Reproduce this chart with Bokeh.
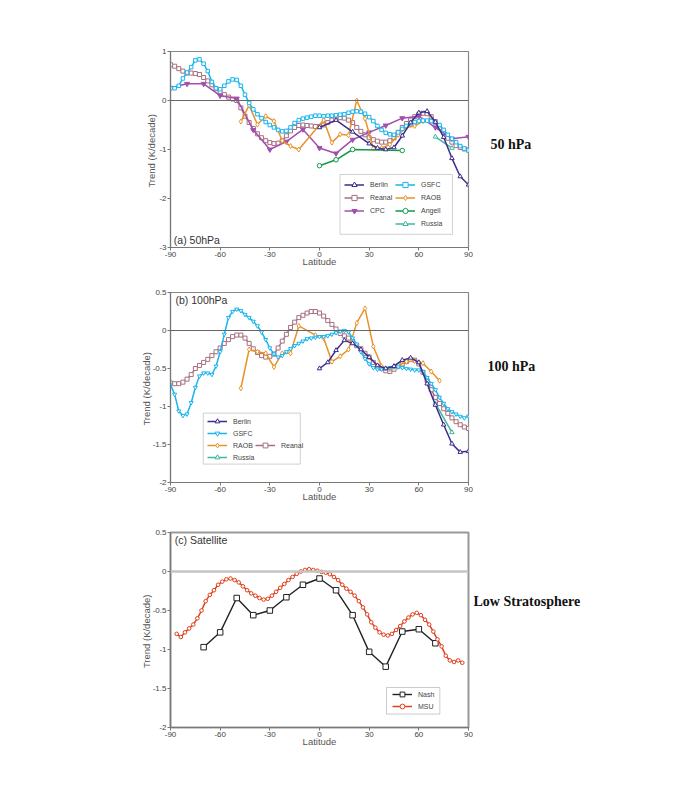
from bokeh.plotting import figure
from bokeh.layouts import column, row
from bokeh.models import Range1d, Legend, LegendItem, Label, BoxAnnotation, Span, FixedTicker
from bokeh.embed import file_html
from bokeh.resources import INLINE

# ---------------- data ----------------
X_TICKS = [-90, -60, -30, 0, 30, 60, 90]

GRID_LAT = [-90, -87.5, -85, -82.5, -80, -77.5, -75, -72.5, -70, -67.5, -65, -62.5, -60, -57.5,
            -55, -52.5, -50, -47.5, -45, -42.5, -40, -37.5, -35, -32.5, -30, -27.5, -25, -22.5,
            -20, -17.5, -15, -12.5, -10, -7.5, -5, -2.5, 0, 2.5, 5, 7.5, 10, 12.5, 15, 17.5,
            20, 22.5, 25, 27.5, 30, 32.5, 35, 37.5, 40, 42.5, 45, 47.5, 50, 52.5, 55, 57.5,
            60, 62.5, 65, 67.5, 70, 72.5, 75, 77.5, 80, 82.5, 85, 87.5, 90]

# (a) 50 hPa
A_BERLIN_LAT = [0, 10, 20, 30, 35, 40, 45, 50, 55, 60, 65, 70, 75, 80, 85, 90]
A_BERLIN = [-0.55, -0.40, -0.64, -0.88, -0.97, -1.00, -0.96, -0.72, -0.45, -0.25, -0.22, -0.44,
            -0.75, -1.18, -1.55, -1.72]
A_REANAL = [0.73, 0.70, 0.65, 0.60, 0.56, 0.56, 0.55, 0.53, 0.47, 0.40, 0.32, 0.24, 0.18, 0.12,
            0.07, 0.03, 0.00, -0.15, -0.32, -0.45, -0.57, -0.68, -0.76, -0.82, -0.86, -0.88,
            -0.87, -0.82, -0.72, -0.62, -0.55, -0.51, -0.50, -0.51, -0.52, -0.53, -0.53, -0.50,
            -0.45, -0.40, -0.37, -0.35, -0.36, -0.40, -0.45, -0.55, -0.63, -0.70, -0.76, -0.80,
            -0.83, -0.85, -0.85, -0.82, -0.76, -0.65, -0.55, -0.47, -0.40, -0.33, -0.28, -0.26,
            -0.27, -0.33, -0.43, -0.55, -0.65, -0.77, -0.85, -0.92, -0.96, -0.99, -1.01]
A_GSFC = [0.25, 0.25, 0.30, 0.45, 0.57, 0.68, 0.82, 0.84, 0.75, 0.60, 0.38, 0.25, 0.23, 0.30,
          0.39, 0.43, 0.42, 0.30, 0.12, -0.05, -0.18, -0.28, -0.36, -0.44, -0.50, -0.55, -0.60,
          -0.63, -0.62, -0.55, -0.46, -0.40, -0.37, -0.35, -0.33, -0.31, -0.31, -0.32, -0.31,
          -0.31, -0.30, -0.29, -0.28, -0.25, -0.23, -0.22, -0.23, -0.27, -0.34, -0.42, -0.52,
          -0.60, -0.66, -0.69, -0.70, -0.65, -0.58, -0.52, -0.47, -0.44, -0.42, -0.41, -0.41,
          -0.42, -0.45, -0.50, -0.60, -0.70, -0.78, -0.85, -0.93, -0.98, -1.02]
A_CPC_LAT = [-90, -80, -70, -60, -50, -40, -30, -20, -10, 0, 10, 20, 30, 40, 50, 60, 70, 80, 90]
A_CPC = [0.26, 0.34, 0.34, 0.10, 0.04, -0.60, -1.00, -0.84, -0.59, -0.97, -1.08, -0.80, -0.65,
         -0.51, -0.36, -0.32, -0.55, -0.78, -0.74]
A_RAOB_LAT = [-47.5, -42.5, -37.5, -32.5, -27.5, -22.5, -17.5, -12.5, 2.5, 7.5, 12.5, 17.5, 22.5,
              27.5, 32.5, 37.5, 42.5, 47.5, 52.5, 57.5, 62.5, 67.5]
A_RAOB = [-0.43, -0.10, -0.49, -0.32, -0.42, -0.82, -0.93, -1.00, -0.40, -0.86, -0.69, -0.71,
          0.00, -0.37, -0.98, -0.97, -0.90, -0.70, -0.55, -0.52, -0.42, -0.40]
A_ANGELL_LAT = [0, 10, 20, 50]
A_ANGELL = [-1.33, -1.21, -1.00, -1.02]
A_RUSSIA_LAT = [70, 80]
A_RUSSIA = [-0.74, -0.97]

# (b) 100 hPa
B_BERLIN_LAT = [0, 5, 10, 15, 20, 25, 30, 35, 40, 45, 50, 55, 60, 65, 70, 75, 80, 85, 90]
B_BERLIN = [-0.50, -0.42, -0.26, -0.13, -0.17, -0.25, -0.35, -0.46, -0.50, -0.47, -0.39, -0.36,
            -0.42, -0.70, -0.98, -1.24, -1.49, -1.60, -1.59]
B_GSFC = [-0.71, -0.84, -1.06, -1.12, -1.10, -0.95, -0.75, -0.60, -0.56, -0.56, -0.58, -0.47,
          -0.28, -0.05, 0.17, 0.25, 0.28, 0.26, 0.21, 0.17, 0.12, 0.06, -0.02, -0.12, -0.23,
          -0.31, -0.35, -0.33, -0.28, -0.24, -0.20, -0.17, -0.14, -0.11, -0.10, -0.09, -0.08,
          -0.08, -0.07, -0.05, -0.03, -0.01, 0.00, -0.02, -0.10, -0.18, -0.28, -0.37, -0.44,
          -0.49, -0.51, -0.51, -0.50, -0.49, -0.48, -0.48, -0.49, -0.50, -0.51, -0.52, -0.52,
          -0.54, -0.62, -0.70, -0.78, -0.88, -0.96, -1.03, -1.07, -1.10, -1.13, -1.15, -1.13]
B_REANAL = [-0.69, -0.70, -0.70, -0.68, -0.64, -0.58, -0.50, -0.46, -0.42, -0.38, -0.33, -0.28,
            -0.23, -0.17, -0.12, -0.08, -0.06, -0.06, -0.10, -0.17, -0.24, -0.29, -0.33, -0.35,
            -0.34, -0.31, -0.23, -0.14, -0.05, 0.04, 0.11, 0.17, 0.20, 0.23, 0.25, 0.25, 0.23,
            0.19, 0.13, 0.08, 0.02, -0.04, -0.07, -0.10, -0.14, -0.20, -0.24, -0.30, -0.35,
            -0.42, -0.47, -0.50, -0.53, -0.54, -0.51, -0.47, -0.44, -0.41, -0.38, -0.39, -0.44,
            -0.55, -0.66, -0.78, -0.88, -0.96, -1.03, -1.09, -1.15, -1.20, -1.24, -1.27, -1.29]
B_RAOB_LAT = [-47.5, -42.5, -37.5, -32.5, -27.5, -22.5, -17.5, -12.5, -2.5, 2.5, 7.5, 12.5, 17.5,
              22.5, 27.5, 32.5, 37.5, 42.5, 47.5, 52.5, 57.5, 62.5, 67.5, 72.5]
B_RAOB = [-0.76, -0.25, -0.28, -0.30, -0.48, -0.30, -0.30, 0.06, -0.06, -0.10, -0.41, -0.34,
          -0.25, 0.10, 0.29, -0.21, -0.47, -0.51, -0.46, -0.41, -0.40, -0.43, -0.54, -0.66]
B_RUSSIA_LAT = [70, 80]
B_RUSSIA = [-0.96, -1.34]

# (c) Satellite
C_NASH_LAT = [-70, -60, -50, -40, -30, -20, -10, 0, 10, 20, 30, 40, 50, 60, 70]
C_NASH = [-0.97, -0.78, -0.34, -0.56, -0.50, -0.33, -0.17, -0.09, -0.24, -0.56, -1.03, -1.22,
          -0.77, -0.74, -0.92]
C_MSU_LAT = [-86.25, -83.75, -81.25, -78.75, -76.25, -73.75, -71.25, -68.75, -66.25, -63.75,
             -61.25, -58.75, -56.25, -53.75, -51.25, -48.75, -46.25, -43.75, -41.25, -38.75,
             -36.25, -33.75, -31.25, -28.75, -26.25, -23.75, -21.25, -18.75, -16.25, -13.75,
             -11.25, -8.75, -6.25, -3.75, -1.25, 1.25, 3.75, 6.25, 8.75, 11.25, 13.75, 16.25,
             18.75, 21.25, 23.75, 26.25, 28.75, 31.25, 33.75, 36.25, 38.75, 41.25, 43.75, 46.25,
             48.75, 51.25, 53.75, 56.25, 58.75, 61.25, 63.75, 66.25, 68.75, 71.25, 73.75, 76.25,
             78.75, 81.25, 83.75, 86.25]
C_MSU = [-0.80, -0.84, -0.78, -0.73, -0.68, -0.60, -0.50, -0.38, -0.30, -0.24, -0.17, -0.13,
         -0.10, -0.09, -0.11, -0.14, -0.19, -0.24, -0.28, -0.31, -0.34, -0.36, -0.35, -0.31,
         -0.26, -0.21, -0.16, -0.11, -0.07, -0.03, 0.00, 0.02, 0.03, 0.02, 0.01, -0.005, -0.015,
         -0.035, -0.07, -0.11, -0.17, -0.22, -0.26, -0.31, -0.38, -0.46, -0.55, -0.65, -0.72,
         -0.78, -0.81, -0.82, -0.80, -0.75, -0.70, -0.64, -0.59, -0.55, -0.53, -0.56, -0.62,
         -0.68, -0.77, -0.87, -0.96, -1.08, -1.14, -1.16, -1.14, -1.17]

# ---------------- style ----------------
FONT = "Liberation Sans"
SERIF = "Liberation Serif"
COL_BERLIN = "#3b2d8c"
COL_REANAL = "#a6707f"
COL_GSFC = "#19b5ee"
COL_CPC = "#a24fae"
COL_RAOB = "#e8922a"
COL_ANGELL = "#12994a"
COL_RUSSIA = "#3fb8a0"
COL_NASH = "#222222"
COL_MSU = "#e0401c"

BL, FW, BR = 170, 298, 5
W = BL + FW + BR
SW = 200


def panel(height, top, bottom, y0, y1, yticks, ylabels, zero_color, zero_width,
          outline_color, outline_width, ylab_standoff):
    p = figure(width=W, height=height, x_range=Range1d(-90, 90), y_range=Range1d(y0, y1),
               output_backend="svg", toolbar_location=None,
               min_border_left=BL, min_border_right=BR, min_border_top=top,
               min_border_bottom=bottom, background_fill_color="white",
               border_fill_color="white")
    p.xgrid.visible = False
    p.ygrid.visible = False
    p.outline_line_color = outline_color
    p.outline_line_width = outline_width
    p.xaxis.ticker = FixedTicker(ticks=X_TICKS)
    p.xaxis.major_label_overrides = {t: str(t) for t in X_TICKS}
    p.yaxis.ticker = FixedTicker(ticks=yticks)
    p.yaxis.major_label_overrides = dict(zip(yticks, ylabels))
    for ax in (p.xaxis[0], p.yaxis[0]):
        ax.axis_line_color = "#777777"
        ax.axis_line_width = 1.2
        ax.major_tick_line_color = "#777777"
        ax.major_tick_in = 0
        ax.major_tick_out = 3
        ax.minor_tick_line_color = None
        ax.major_label_text_font = FONT
        ax.major_label_text_font_size = "8px"
        ax.major_label_text_color = "#444444"
        ax.major_label_standoff = 1
        ax.axis_label_text_font = FONT
        ax.axis_label_text_font_size = "9.5px"
        ax.axis_label_text_font_style = "normal"
        ax.axis_label_text_color = "#555555"
    p.xaxis.axis_label_standoff = -4
    p.yaxis.axis_label_standoff = ylab_standoff
    p.xaxis.axis_label = "Latitude"
    p.yaxis.axis_label = "Trend  (K/decade)"
    p.add_layout(Span(location=0, dimension="width", line_color=zero_color,
                      line_width=zero_width))
    return p


def side(height, top, bottom, y0, y1, text, x, y):
    s = figure(width=SW, height=height, x_range=Range1d(0, 1), y_range=Range1d(y0, y1),
               output_backend="svg", toolbar_location=None, min_border_left=0,
               min_border_right=0, min_border_top=top, min_border_bottom=bottom,
               outline_line_color=None, background_fill_color="white",
               border_fill_color="white")
    s.axis.visible = False
    s.grid.visible = False
    s.add_layout(Label(x=x, y=y, text=text, text_font=SERIF, text_font_style="bold",
                       text_font_size="14px", text_color="#111111", text_baseline="middle"))
    return s


def series(p, x, y, color, marker, size, lw=1.5, fill="white"):
    r1 = p.line(x, y, line_color=color, line_width=lw)
    r2 = p.scatter(x, y, marker=marker, size=size, line_color=color, fill_color=fill,
                   line_width=1)
    return [r1, r2]


def legend(p, items, loc, row_h):
    lg = Legend(items=[LegendItem(label=l, renderers=r) for l, r in items], location=loc,
                border_line_color=None, background_fill_alpha=0, margin=0, padding=0,
                spacing=0, glyph_width=20, glyph_height=row_h, label_height=row_h,
                label_standoff=6, label_text_font=FONT, label_text_font_size="7px",
                label_text_color="#444444")
    p.add_layout(lg, "center")


# ---------------- (a) 50 hPa ----------------
HA, TA, BA = 279, 51, 32
pa = panel(HA, TA, BA, -3, 1, [-3, -2, -1, 0, 1], ["-3", "-2", "-1", "0", "1"],
           "#666666", 1, "#888888", 1.2, -1)
ra_reanal = series(pa, GRID_LAT, A_REANAL, COL_REANAL, "square", 4)
ra_cpc = series(pa, A_CPC_LAT, A_CPC, COL_CPC, "inverted_triangle", 5, fill=COL_CPC)
ra_raob = series(pa, A_RAOB_LAT, A_RAOB, COL_RAOB, "diamond", 5)
ra_angell = series(pa, A_ANGELL_LAT, A_ANGELL, COL_ANGELL, "circle", 4.5)
ra_russia = series(pa, A_RUSSIA_LAT, A_RUSSIA, COL_RUSSIA, "triangle", 4.5)
ra_gsfc = series(pa, GRID_LAT, A_GSFC, COL_GSFC, "square", 3.5)
ra_berlin = series(pa, A_BERLIN_LAT, A_BERLIN, COL_BERLIN, "triangle", 4.5)
pa.add_layout(BoxAnnotation(left=12.4, right=80.3, top=-1.51, bottom=-2.73, fill_alpha=0,
                            line_color="#666666", line_width=1))
legend(pa, [("Berlin", ra_berlin), ("Reanal", ra_reanal), ("CPC", ra_cpc)], (174, 30), 13)
legend(pa, [("GSFC", ra_gsfc), ("RAOB", ra_raob), ("Angell", ra_angell),
            ("Russia", ra_russia)], (225, 17), 13)
pa.add_layout(Label(x=-88, y=-2.84, text="(a) 50hPa", text_font=FONT, text_font_size="10.5px",
                    text_color="#333333", text_baseline="middle"))
sa = side(HA, TA, BA, -3, 1, "50 hPa", 0.085, -0.9)

# ---------------- (b) 100 hPa ----------------
HB, TB, BB = 235, 13, 32
pb = panel(HB, TB, BB, -2, 0.5, [-2, -1.5, -1, -0.5, 0, 0.5],
           ["-2", "-1.5", "-1", "-0.5", "0", "0.5"], "#666666", 1, "#888888", 1.2, -2)
rb_reanal = series(pb, GRID_LAT, B_REANAL, COL_REANAL, "square", 4)
rb_raob = series(pb, B_RAOB_LAT, B_RAOB, COL_RAOB, "diamond", 5)
rb_russia = series(pb, B_RUSSIA_LAT, B_RUSSIA, COL_RUSSIA, "triangle", 4.5)
rb_gsfc = series(pb, GRID_LAT, B_GSFC, COL_GSFC, "inverted_triangle", 4)
rb_berlin = series(pb, B_BERLIN_LAT, B_BERLIN, COL_BERLIN, "triangle", 4.5)
pb.add_layout(BoxAnnotation(left=-70.2, right=-11.6, top=-1.087, bottom=-1.758, fill_alpha=0,
                            line_color="#666666", line_width=1))
legend(pb, [("Berlin", rb_berlin), ("GSFC", rb_gsfc), ("RAOB", rb_raob),
            ("Russia", rb_russia)], (37, 19), 12)
legend(pb, [("Reanal", rb_reanal)], (85, 31), 12)
pb.add_layout(Label(x=-87, y=0.4, text="(b) 100hPa", text_font=FONT, text_font_size="10.5px",
                    text_color="#333333", text_baseline="middle"))
sb = side(HB, TB, BB, -2, 0.5, "100 hPa", 0.07, -0.48)

# ---------------- (c) Satellite ----------------
HC, TC, BC = 245, 18, 32
pc = panel(HC, TC, BC, -2, 0.5, [-2, -1.5, -1, -0.5, 0, 0.5],
           ["-2", "-1.5", "-1", "-0.5", "0", "0.5"], "#c4c4c4", 2.5, "#999999", 2, -2)
rc_nash = series(pc, C_NASH_LAT, C_NASH, COL_NASH, "square", 5.5, lw=1.4)
rc_msu = series(pc, C_MSU_LAT, C_MSU, COL_MSU, "circle", 3.6, lw=1.5)
pc.add_layout(BoxAnnotation(left=40.5, right=72.7, top=-1.487, bottom=-1.828, fill_alpha=0,
                            line_color="#555555", line_width=1))
legend(pc, [("Nash", rc_nash), ("MSU", rc_msu)], (222, 15), 12)
pc.add_layout(Label(x=-87.4, y=0.4, text="(c) Satellite", text_font=FONT,
                    text_font_size="10.5px", text_color="#333333", text_baseline="middle"))
sc = side(HC, TC, BC, -2, 0.5, "Low Stratosphere", 0.0, -0.38)

layout = column(row(pa, sa, spacing=0), row(pb, sb, spacing=0), row(pc, sc, spacing=0),
                spacing=0)
open("out.html", "w").write(file_html(layout, INLINE))
